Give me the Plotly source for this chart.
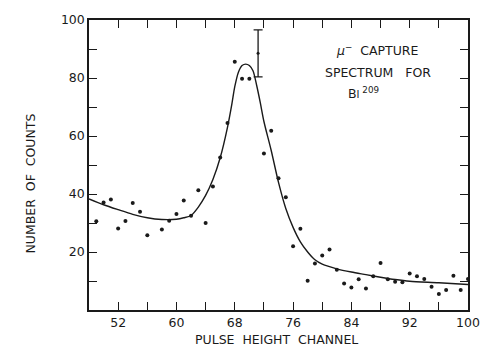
import plotly.graph_objects as go

# measured counts per pulse-height channel
channels = [49, 50, 51, 52, 53, 54, 55, 56, 58, 59, 60, 61, 62, 63, 64, 65, 66, 67, 68, 69, 70,
            72, 73, 74, 75, 76, 77, 78, 79, 80, 81, 82, 83, 84, 85, 86, 87, 88, 89, 90,
            91, 92, 93, 94, 95, 96, 97, 98, 99, 100]
counts = [30.6, 37.1, 38.1, 28.1, 30.7, 36.9, 33.9, 25.8, 27.8, 30.8, 33.1, 37.8, 32.5, 41.3, 30.0, 42.6,
          52.6, 64.5, 85.6, 79.7, 79.7,
          54.0, 61.8, 45.4, 38.9, 22.0, 28.0, 10.1, 16.0, 18.8, 20.9, 13.9, 9.1, 7.8, 10.6, 7.4,
          11.6, 16.2, 10.6, 9.7, 9.6, 12.6, 11.6, 10.7, 8.0, 5.5, 6.9, 11.8, 6.9, 10.7]

# representative error bar
err_x = [71.2]
err_y = [88.5]
err_val = [8.1]

# smooth fitted curve
fit_x = [48, 50, 52, 54, 56, 58, 60, 61, 62, 63, 64, 65, 66, 67, 67.6, 68, 68.5, 69, 69.5,
         70, 70.5, 71, 71.5, 72, 73, 74, 75, 76, 77, 78, 79, 80, 82, 84, 86, 88, 90, 92, 96, 100]
fit_y = [38.3, 36.3, 34.6, 33.0, 31.8, 31.2, 31.3, 31.8, 32.6, 35.5, 39.5, 45, 52.5, 63, 71, 77,
         82, 84.3, 84.8, 84.3, 82.5, 77.5, 71.5, 65, 55, 44, 35, 28.5, 23.5, 20, 17.3, 15.8,
         14.2, 13.1, 12.2, 11.3, 10.5, 9.9, 9.4, 8.8]

x_tickvals = [52, 60, 68, 76, 84, 92, 100]
x_ticktext = ["52", "60", "68", "76", "84", "92", "100"]
x_minorvals = [56, 64, 72, 80, 88, 96]
y_tickvals = [20, 40, 60, 80, 100]
y_ticktext = ["20", "40", "60", "80", "100"]
y_minorvals = [10, 30, 50, 70, 90]

INK = "#1a1a1a"
FONT = "DejaVu Sans"

fig = go.Figure()
fig.add_trace(go.Scatter(x=fit_x, y=fit_y, mode="lines",
                         line=dict(color=INK, width=1.4, shape="spline", smoothing=0.8),
                         hoverinfo="skip", showlegend=False))
fig.add_trace(go.Scatter(x=channels, y=counts, mode="markers",
                         marker=dict(color=INK, size=4), showlegend=False))
fig.add_trace(go.Scatter(x=err_x, y=err_y, mode="markers",
                         marker=dict(color=INK, size=3),
                         error_y=dict(type="data", array=err_val, visible=True,
                                      color=INK, thickness=1.3, width=4.5),
                         showlegend=False))

axis_common = dict(showgrid=False, zeroline=False, showline=True, linecolor=INK, linewidth=1.5,
                   mirror="ticks", ticks="inside", ticklen=8, tickwidth=1.3, tickcolor=INK,
                   tickfont=dict(family=FONT, size=12.5, color=INK))
fig.update_xaxes(range=[48, 100], tickmode="array", tickvals=x_tickvals, ticktext=x_ticktext,
                 minor=dict(tickmode="array", tickvals=x_minorvals, ticks="inside", ticklen=8,
                            tickwidth=1.3, tickcolor=INK, showgrid=False),
                 **axis_common)
fig.update_yaxes(range=[0, 100], tickmode="array", tickvals=y_tickvals, ticktext=y_ticktext,
                 minor=dict(tickmode="array", tickvals=y_minorvals, ticks="inside", ticklen=8,
                            tickwidth=1.3, tickcolor=INK, showgrid=False),
                 **axis_common)

ann_font = dict(family=FONT, size=12.5, color=INK)
fig.update_layout(
    width=492, height=358,
    margin=dict(l=89, r=16, t=15, b=48),
    paper_bgcolor="white", plot_bgcolor="white",
    annotations=[
        dict(x=87.6, y=89.5, xref="x", yref="y", text="<i>μ</i><sup>−</sup>\u00a0\u00a0CAPTURE",
             showarrow=False, font=ann_font),
        dict(x=87.6, y=81.8, xref="x", yref="y", text="SPECTRUM\u00a0\u00a0\u00a0FOR",
             showarrow=False, font=ann_font),
        dict(x=85.6, y=74.8, xref="x", yref="y", text="B<span style='font-size:10px'>I</span><sup>\u00a0209</sup>",
             showarrow=False, font=ann_font),
        dict(x=-0.178, y=0.436, xref="paper", yref="paper",
             text="NUMBER\u00a0\u00a0OF\u00a0\u00a0COUNTS", textangle=-90,
             showarrow=False, font=dict(family=FONT, size=12.5, color=INK)),
        dict(x=0.496, y=-0.135, xref="paper", yref="paper",
             text="PULSE\u00a0\u00a0HEIGHT\u00a0\u00a0CHANNEL",
             showarrow=False, font=dict(family=FONT, size=12.5, color=INK)),
    ],
)

fig.write_html("out.html")
